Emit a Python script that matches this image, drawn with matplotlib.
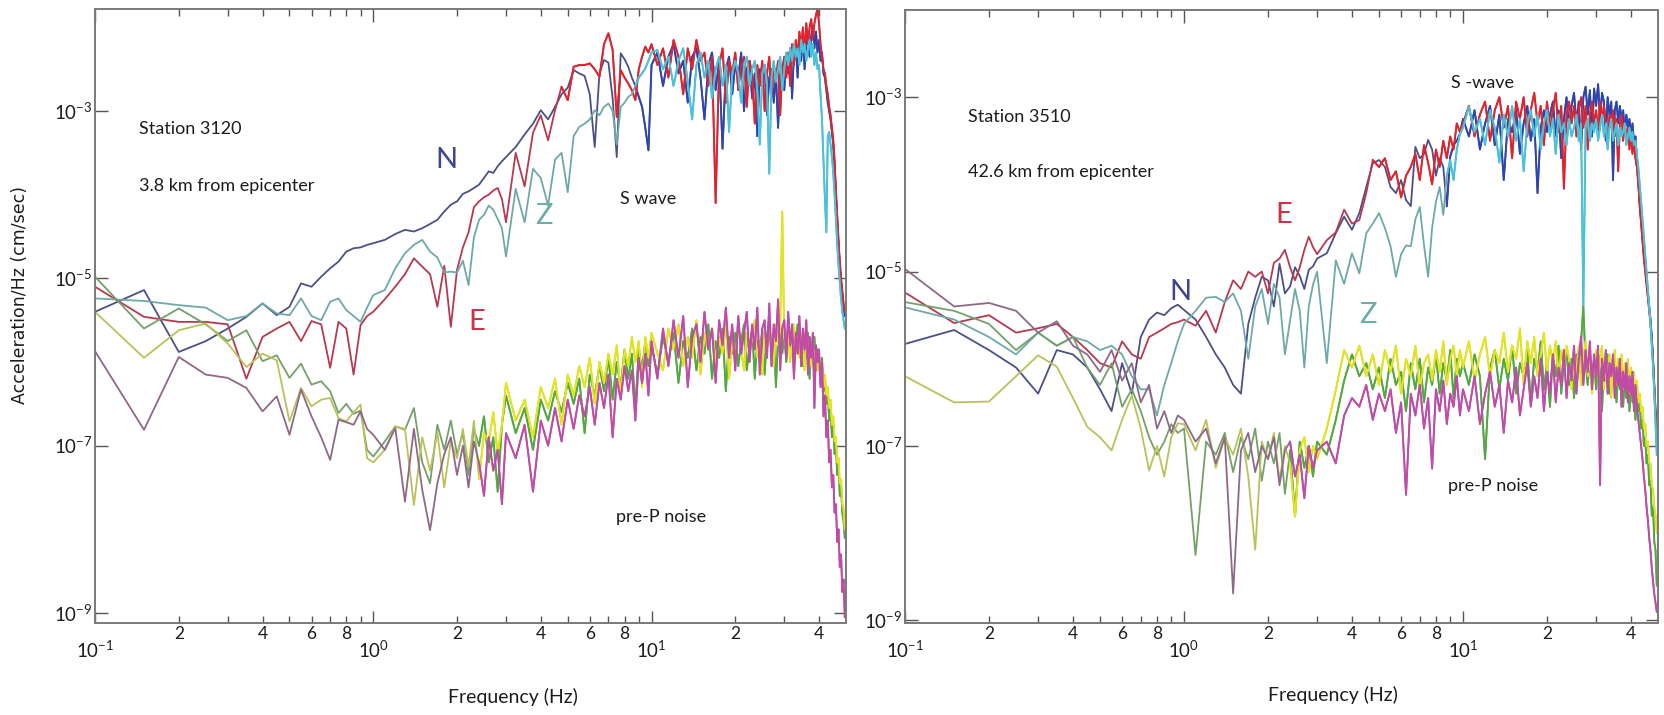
import numpy as np
import matplotlib
matplotlib.use('Agg')
import matplotlib.pyplot as plt
from matplotlib.ticker import FixedLocator, FixedFormatter, FuncFormatter, NullLocator

# ==================== DATA ====================
# frequency grid (Hz), shared by every spectrum
freq = np.array([
    0.10, 0.15, 0.20, 0.25, 0.30, 0.35, 0.40, 0.45, 0.50, 0.55, 0.60, 0.65, 0.70, 0.75, 0.80, 0.85, 0.90, 0.95,
    1.0, 1.1, 1.2, 1.3, 1.4, 1.5, 1.6, 1.7, 1.8, 1.9, 2.0, 2.1, 2.2, 2.3, 2.4, 2.5, 2.6, 2.7, 2.8, 2.9,
    3.0, 3.25, 3.5, 3.75, 4.0, 4.25, 4.5, 4.75, 5.0, 5.25, 5.5, 5.75, 6.0, 6.25, 6.5, 6.75, 7.0, 7.25,
    7.5, 7.75, 8.0, 8.25, 8.5, 8.75, 9.0, 9.25, 9.5, 9.75,
    10.0, 10.5, 11.0, 11.5, 12.0, 12.5, 13.0, 13.5, 14.0, 14.5, 15.0, 15.5, 16.0, 16.5, 17.0, 17.5, 18.0, 18.5, 19.0, 19.5,
    20.0, 20.5, 21.0, 21.5, 22.0, 22.5, 23.0, 23.5, 24.0, 24.5, 25.0, 25.5, 26.0, 26.5, 27.0, 27.5, 28.0, 28.5, 29.0, 29.5,
    30.0, 30.5, 31.0, 31.5, 32.0, 32.5, 33.0, 33.5, 34.0, 34.5, 35.0, 35.5, 36.0, 36.5, 37.0, 37.5, 38.0, 38.5, 39.0, 39.5,
    40.0, 40.5, 41.0, 41.5, 42.0, 42.5, 43.0, 43.5, 44.0, 44.5, 45.0, 45.5, 46.0, 46.5, 47.0, 47.5, 48.0, 48.5, 49.0, 49.5,
])

# all amplitudes below are log10 of acceleration spectra

# ---- station 3120, S wave ----
s3120_n = [
    -5.40, -5.14, -5.88, -5.75, -5.60, -5.46, -5.30, -5.44, -5.34, -5.06, -5.10, -4.98, -4.88, -4.80, -4.68, -4.64, -4.63, -4.60,
    -4.58, -4.54, -4.47, -4.42, -4.44, -4.40, -4.35, -4.30, -4.20, -4.12, -4.08, -3.99, -3.96, -3.92, -3.88, -3.80, -3.72, -3.74, -3.66, -3.60,
    -3.55, -3.43, -3.28, -3.15, -2.99, -3.10, -2.95, -2.80, -2.72, -2.51, -2.55, -2.58, -2.80, -3.43, -2.55, -2.39, -2.42, -2.85,
    -3.55, -2.31, -2.38, -2.47, -2.60, -2.70, -2.83, -2.95, -3.20, -3.47,
    -2.45, -2.30, -2.70, -2.35, -2.20, -2.55, -2.40, -2.90, -2.35, -2.25, -2.60, -3.10, -2.45, -2.30, -2.75, -2.40, -3.45, -2.50, -2.35, -2.80,
    -2.45, -2.60, -2.30, -3.00, -2.50, -2.40, -2.85, -2.55, -3.30, -2.50, -2.65, -2.45, -3.05, -2.60, -2.50, -2.90, -2.55, -3.20, -2.60, -2.45,
    -2.75, -2.35, -2.55, -2.25, -2.85, -2.30, -2.20, -2.60, -2.15, -2.40, -2.10, -2.50, -2.20, -2.05, -2.35, -2.10, -1.98, -2.25, -2.05, -2.30,
    -2.15, -2.40, -2.30, -2.55, -2.60, -2.75, -2.90, -3.00, -3.10, -3.25, -3.40, -3.70, -4.00, -4.35, -4.60, -4.85, -5.05, -5.20, -5.35, -5.45,
]
s3120_e = [
    -5.10, -5.46, -5.52, -5.52, -5.55, -6.20, -5.70, -5.60, -5.52, -5.75, -5.51, -5.55, -6.07, -5.52, -5.60, -6.15, -5.56, -5.45,
    -5.40, -5.25, -5.10, -4.95, -4.76, -4.86, -4.95, -5.34, -4.85, -5.58, -4.90, -4.63, -4.45, -4.15, -4.08, -4.03, -4.00, -3.95, -3.92, -4.05,
    -4.33, -3.50, -3.90, -3.26, -3.05, -3.35, -2.99, -2.71, -2.87, -2.47, -2.45, -2.45, -2.43, -2.50, -2.59, -2.20, -2.07, -2.27,
    -3.07, -2.51, -2.60, -2.67, -2.75, -2.87, -2.50, -2.35, -2.23, -2.30,
    -2.20, -2.45, -2.25, -2.60, -2.15, -2.35, -2.80, -2.25, -2.50, -2.15, -2.40, -2.30, -2.70, -2.35, -4.10, -2.45, -2.25, -2.90, -2.40, -2.55,
    -2.30, -2.75, -2.45, -2.35, -2.95, -2.40, -2.55, -3.15, -2.45, -2.70, -2.40, -3.00, -2.55, -2.35, -2.80, -2.45, -2.60, -2.40, -3.05, -2.50,
    -2.35, -2.60, -2.30, -2.70, -2.20, -2.45, -2.15, -2.35, -2.05, -2.25, -2.00, -2.30, -1.95, -2.20, -2.00, -1.90, -2.15, -1.95, -1.85, -1.78,
    -1.95, -2.20, -2.35, -2.50, -2.55, -2.70, -2.80, -2.95, -3.05, -3.20, -3.35, -3.60, -3.95, -4.25, -4.55, -4.80, -5.00, -5.15, -5.30, -5.40,
]
s3120_z = [
    -5.24, -5.27, -5.32, -5.35, -5.50, -5.45, -5.30, -5.42, -5.44, -5.24, -5.45, -5.50, -5.28, -5.24, -5.38, -5.45, -5.52, -5.35,
    -5.20, -5.14, -4.88, -4.70, -4.60, -4.54, -4.68, -4.75, -4.93, -4.92, -4.93, -4.79, -5.08, -4.51, -4.30, -4.24, -4.13, -4.18, -4.29, -4.40,
    -4.74, -3.93, -4.33, -3.69, -3.80, -4.13, -3.58, -3.50, -3.97, -3.30, -3.19, -3.15, -3.10, -2.99, -3.05, -2.95, -2.91, -3.00,
    -3.40, -2.95, -2.90, -2.83, -2.80, -2.70, -2.60, -2.55, -2.49, -2.40,
    -2.30, -2.27, -2.50, -2.35, -2.70, -2.40, -2.25, -2.65, -3.10, -2.45, -2.30, -2.60, -2.40, -2.85, -2.50, -2.35, -2.70, -2.45, -3.25, -2.55,
    -2.40, -2.55, -2.90, -2.45, -2.35, -2.70, -2.50, -2.40, -2.75, -3.40, -2.55, -2.45, -2.70, -3.75, -2.60, -2.40, -2.65, -2.50, -2.35, -2.75,
    -2.50, -2.30, -2.45, -2.25, -2.40, -2.20, -2.35, -2.25, -2.45, -2.15, -2.30, -2.20, -2.40, -2.25, -2.15, -2.35, -2.20, -2.45, -2.30, -2.50,
    -2.45, -2.80, -3.10, -3.60, -4.05, -4.45, -3.30, -3.25, -3.40, -3.55, -3.75, -4.00, -4.30, -4.60, -4.85, -5.05, -5.25, -5.40, -5.50, -5.60,
]

# ---- station 3120, pre-P noise ----
s3120_noise_g = [
    -4.98, -5.60, -5.36, -5.55, -5.75, -5.62, -5.99, -5.92, -6.19, -6.02, -6.27, -6.23, -6.35, -6.61, -6.50, -6.62, -6.58, -7.05,
    -7.13, -6.95, -6.77, -6.81, -6.55, -7.20, -7.45, -6.75, -7.05, -6.70, -7.10, -6.85, -7.35, -6.80, -7.00, -6.65, -7.20, -6.90, -7.55, -6.75,
    -6.40, -6.85, -6.55, -7.05, -6.45, -6.70, -6.35, -6.60, -6.25, -6.50, -6.20, -6.85, -6.15, -6.40, -6.05, -6.35, -5.95, -6.45,
    -6.00, -6.30, -5.85, -6.20, -5.90, -6.55, -5.85, -6.10, -5.75, -6.05,
    -5.80, -6.15, -5.70, -6.00, -5.65, -6.25, -5.75, -5.95, -5.60, -6.10, -5.70, -5.90, -5.55, -6.20, -5.75, -5.95, -5.60, -6.35, -5.70, -5.90,
    -5.65, -6.05, -5.75, -5.55, -6.10, -5.80, -5.60, -6.20, -5.75, -5.95, -5.60, -6.15, -5.70, -5.50, -5.95, -5.65, -6.30, -5.70, -5.55, -5.90,
    -5.65, -6.00, -5.70, -5.85, -5.60, -6.10, -5.75, -5.55, -5.90, -5.70, -6.05, -5.75, -5.95, -5.65, -6.20, -5.80, -5.95, -5.70, -6.10, -5.85,
    -6.00, -6.25, -5.95, -6.35, -6.20, -6.50, -6.35, -6.70, -6.55, -6.90, -6.75, -7.10, -7.00, -7.35, -7.25, -7.60, -7.50, -7.80, -7.90, -8.10,
]
s3120_noise_y = [
    -5.40, -5.95, -5.62, -5.54, -5.78, -6.06, -5.90, -5.98, -6.71, -6.31, -6.53, -6.45, -6.43, -6.67, -6.71, -6.60, -6.51, -7.15,
    -7.20, -7.05, -6.77, -6.80, -7.71, -6.90, -7.30, -6.85, -7.50, -6.95, -7.15, -6.80, -7.25, -6.70, -7.40, -6.85, -6.95, -6.60, -7.10, -6.75,
    -6.25, -6.70, -6.45, -6.90, -6.30, -6.55, -6.20, -6.75, -6.15, -6.40, -6.05, -6.30, -5.95, -6.50, -6.00, -6.25, -5.90, -6.15,
    -5.80, -6.40, -5.85, -6.05, -5.70, -6.00, -5.75, -6.30, -5.70, -5.95,
    -5.65, -5.90, -6.10, -5.60, -5.85, -5.55, -6.05, -5.70, -5.95, -5.50, -6.15, -5.65, -5.85, -5.60, -6.00, -5.70, -5.90, -5.55, -6.20, -5.75,
    -5.95, -5.60, -5.85, -6.10, -5.65, -5.90, -5.70, -5.50, -5.95, -5.75, -6.15, -5.65, -5.85, -5.60, -5.75, -6.05, -5.55, -5.80, -5.60, -4.20,
    -5.70, -5.85, -5.60, -6.00, -5.75, -5.55, -5.90, -5.70, -5.95, -5.65, -5.85, -6.10, -5.70, -5.90, -5.75, -6.05, -5.80, -6.00, -5.85, -6.10,
    -5.90, -6.15, -6.05, -6.30, -6.15, -6.40, -6.30, -6.55, -6.45, -6.75, -6.65, -6.95, -6.90, -7.20, -7.15, -7.45, -7.40, -7.70, -7.75, -8.00,
]
s3120_noise_m = [
    -5.87, -6.81, -5.94, -6.15, -6.19, -6.31, -6.59, -6.41, -6.87, -6.33, -6.65, -6.90, -7.17, -6.69, -6.72, -6.75, -6.59, -6.80,
    -6.87, -7.05, -6.79, -7.67, -6.80, -7.53, -8.01, -7.45, -7.10, -6.90, -7.35, -7.00, -7.50, -6.95, -7.20, -7.60, -6.90, -7.30, -7.05, -7.70,
    -6.85, -7.15, -6.75, -7.55, -6.70, -7.00, -6.55, -6.95, -6.45, -6.80, -6.40, -6.65, -6.30, -6.75, -6.25, -6.55, -6.15, -6.90,
    -6.20, -6.45, -6.05, -6.35, -6.10, -6.70, -5.95, -6.25, -5.90, -6.40,
    -5.75, -6.20, -5.60, -6.05, -5.50, -5.95, -5.45, -6.30, -5.70, -5.55, -6.00, -5.40, -5.85, -5.60, -6.25, -5.50, -5.80, -5.35, -5.95, -5.55,
    -6.10, -5.45, -5.90, -5.65, -5.40, -6.00, -5.55, -5.85, -5.35, -6.15, -5.60, -5.50, -5.95, -5.30, -6.05, -5.55, -5.75, -5.25, -6.10, -5.60,
    -5.50, -5.95, -5.40, -5.80, -5.55, -6.20, -5.65, -5.90, -5.45, -6.05, -5.60, -5.85, -5.50, -6.15, -5.70, -5.95, -5.65, -6.55, -5.80, -6.00,
    -5.85, -6.30, -6.00, -6.65, -6.40, -6.90, -6.70, -7.20, -7.05, -7.50, -7.35, -7.80, -7.70, -8.15, -8.00, -8.45, -8.30, -8.75, -8.60, -9.05,
]

# ---- station 3510, S wave ----
s3510_n = [
    -5.83, -5.67, -5.90, -6.10, -6.40, -5.90, -5.95, -6.10, -6.35, -6.60, -6.05, -6.40, -5.75, -5.55, -5.47, -5.50, -5.42, -5.38,
    -5.44, -5.55, -5.75, -5.95, -6.10, -6.30, -6.40, -5.60, -5.30, -5.06, -5.10, -5.40, -4.91, -5.25, -5.17, -4.95, -5.05, -5.20, -4.98, -4.94,
    -4.85, -4.79, -4.56, -4.37, -4.52, -4.33, -4.03, -3.76, -3.72, -3.80, -4.03, -4.10, -3.95, -4.18, -4.25, -3.57, -3.70, -3.65,
    -3.49, -3.60, -3.90, -3.70, -3.80, -4.25, -3.68, -3.55, -3.50, -3.42,
    -3.25, -3.45, -3.15, -3.60, -3.30, -3.10, -3.55, -3.20, -3.95, -3.25, -3.40, -3.15, -3.65, -3.30, -3.10, -3.50, -3.25, -4.10, -3.35, -3.15,
    -3.40, -3.20, -3.05, -3.45, -3.15, -3.70, -3.25, -3.00, -3.35, -3.10, -2.95, -3.30, -3.05, -3.60, -3.00, -2.88, -3.20, -2.92, -3.45, -2.90,
    -3.10, -2.85, -3.25, -2.95, -3.05, -3.50, -3.00, -3.20, -3.05, -3.95, -3.15, -3.05, -3.30, -3.10, -3.25, -3.15, -3.40, -3.20, -3.35, -3.25,
    -3.45, -3.30, -3.50, -3.45, -3.70, -3.95, -4.20, -4.40, -4.60, -4.80, -4.95, -5.10, -5.25, -5.40, -5.55, -5.75, -6.00, -6.30, -6.60, -6.90,
]
s3510_e = [
    -5.24, -5.59, -5.50, -5.70, -5.65, -5.60, -5.75, -5.90, -6.05, -6.10, -5.80, -5.95, -6.00, -5.75, -5.70, -5.65, -5.60, -5.58,
    -5.55, -5.62, -5.45, -5.70, -5.35, -5.10, -5.20, -5.00, -5.06, -5.00, -5.25, -4.90, -4.85, -4.75, -4.95, -5.10, -4.95, -4.75, -4.60, -4.72,
    -4.80, -4.64, -4.55, -4.29, -4.45, -4.41, -4.10, -3.72, -3.80, -3.70, -3.95, -3.85, -4.15, -3.90, -3.80, -3.65, -3.95, -3.55,
    -3.75, -4.00, -3.60, -3.80, -3.50, -3.70, -3.45, -3.60, -3.30, -3.40,
    -3.30, -3.10, -3.45, -3.20, -3.05, -3.50, -3.15, -3.00, -3.35, -3.10, -3.70, -3.05, -3.25, -3.00, -3.45, -3.15, -2.95, -3.30, -3.10, -3.55,
    -3.05, -3.35, -3.15, -2.95, -3.40, -3.10, -4.05, -3.20, -3.05, -3.30, -3.10, -3.45, -3.15, -3.00, -3.35, -3.10, -3.60, -3.20, -3.05, -3.30,
    -3.15, -3.40, -3.05, -3.25, -3.10, -3.30, -3.55, -3.20, -3.35, -3.15, -3.45, -3.25, -3.85, -3.30, -3.20, -3.50, -3.30, -3.45, -3.35, -3.60,
    -3.40, -3.65, -3.50, -3.70, -3.80, -4.00, -4.25, -4.45, -4.65, -4.85, -5.00, -5.15, -5.30, -5.45, -5.60, -5.80, -6.05, -6.35, -6.65, -6.95,
]
s3510_z = [
    -5.41, -5.55, -5.75, -5.95, -5.70, -5.85, -5.75, -5.80, -5.90, -5.85, -5.95, -6.20, -6.35, -6.35, -6.65, -6.30, -6.05, -5.80,
    -5.60, -5.45, -5.30, -5.29, -5.35, -5.25, -5.45, -6.00, -5.40, -5.20, -5.60, -5.14, -5.30, -5.95, -5.56, -5.20, -5.45, -6.10, -5.40, -5.15,
    -5.00, -6.05, -4.87, -5.14, -4.79, -5.02, -4.56, -4.45, -4.33, -4.50, -4.71, -5.06, -4.80, -4.70, -4.71, -4.40, -4.26, -4.70,
    -5.06, -4.50, -4.20, -4.03, -4.35, -3.90, -3.72, -3.95, -3.60, -3.42,
    -3.35, -3.11, -3.40, -3.25, -3.55, -3.15, -3.35, -3.75, -3.20, -3.45, -3.10, -3.50, -3.25, -3.85, -3.30, -3.15, -3.45, -3.20, -3.60, -3.30,
    -3.15, -3.45, -3.25, -3.65, -3.20, -3.40, -3.30, -3.55, -3.25, -3.45, -3.35, -3.20, -3.50, -3.30, -5.40, -3.35, -3.25, -3.50, -3.30, -3.40,
    -3.25, -3.50, -3.35, -3.20, -3.45, -3.30, -3.60, -3.35, -3.25, -3.50, -3.40, -3.30, -3.55, -3.35, -3.45, -3.40, -3.30, -3.55, -3.45, -3.35,
    -3.50, -3.40, -3.55, -3.50, -3.65, -3.80, -4.00, -4.20, -4.40, -4.60, -4.80, -5.00, -5.20, -5.40, -5.60, -5.85, -6.10, -6.40, -6.75, -7.10,
]

# ---- station 3510, pre-P noise ----
s3510_noise_g = [
    -5.35, -5.45, -5.60, -5.90, -5.70, -5.85, -5.75, -6.10, -6.30, -6.05, -6.55, -6.35, -6.60, -6.90, -7.10, -6.95, -6.75, -6.85,
    -6.80, -8.25, -6.95, -7.10, -6.85, -7.30, -6.90, -7.15, -6.80, -7.40, -6.95, -7.20, -6.85, -7.55, -7.05, -7.80, -6.95, -7.25, -7.00, -7.35,
    -6.95, -7.10, -6.70, -6.25, -5.95, -6.20, -6.05, -6.35, -6.10, -6.45, -6.00, -6.30, -6.15, -6.60, -6.05, -6.35, -6.00, -6.50,
    -6.10, -6.30, -5.95, -6.40, -6.05, -6.25, -5.90, -6.45, -6.00, -6.20,
    -6.05, -6.30, -5.95, -6.20, -7.15, -6.10, -5.90, -6.35, -6.00, -6.25, -5.85, -6.40, -6.05, -6.20, -5.90, -6.50, -6.00, -6.15, -5.80, -6.35,
    -6.05, -6.55, -5.95, -6.20, -5.85, -6.40, -6.05, -5.90, -6.30, -6.00, -6.45, -5.95, -6.15, -5.80, -5.40, -6.05, -6.30, -5.95, -6.20, -6.00,
    -6.35, -5.95, -6.15, -6.60, -6.05, -6.25, -5.95, -6.40, -6.10, -6.30, -6.00, -6.50, -6.15, -6.35, -6.05, -6.55, -6.20, -6.45, -6.10, -6.60,
    -6.25, -6.50, -6.30, -6.70, -6.45, -6.60, -6.50, -6.80, -6.70, -7.00, -6.90, -7.20, -7.10, -7.45, -7.40, -7.80, -7.70, -8.10, -8.20, -8.60,
]
s3510_noise_y = [
    -6.20, -6.50, -6.49, -6.20, -5.96, -6.09, -6.45, -6.78, -6.90, -7.05, -6.70, -6.42, -6.80, -7.28, -7.00, -7.35, -6.90, -6.74,
    -6.75, -7.05, -6.70, -7.25, -6.90, -7.10, -6.80, -7.35, -8.19, -6.95, -7.15, -6.85, -7.40, -7.00, -7.20, -7.81, -7.05, -6.90, -7.30, -7.00,
    -7.15, -6.80, -6.36, -5.90, -6.10, -5.85, -6.20, -5.95, -6.30, -5.90, -6.15, -5.85, -6.40, -6.00, -6.20, -5.85, -6.35, -6.05,
    -5.95, -6.25, -5.90, -6.15, -5.80, -6.30, -6.00, -5.85, -6.20, -5.90,
    -6.10, -5.80, -6.25, -5.95, -5.75, -6.20, -5.90, -6.05, -5.70, -6.15, -5.85, -6.00, -5.65, -6.30, -5.80, -6.05, -5.75, -6.20, -5.95, -5.70,
    -6.15, -5.85, -6.05, -5.80, -6.25, -5.90, -6.10, -5.85, -6.00, -6.35, -5.95, -6.15, -5.85, -6.30, -6.00, -5.80, -6.20, -5.95, -6.40, -6.05,
    -5.90, -6.25, -6.00, -5.85, -6.35, -6.05, -6.20, -5.95, -6.45, -6.10, -5.90, -6.30, -6.00, -6.20, -5.95, -6.35, -6.05, -6.25, -6.00, -6.40,
    -6.10, -6.30, -6.15, -6.45, -6.25, -6.50, -6.40, -6.60, -6.55, -6.80, -6.75, -7.00, -6.95, -7.20, -7.20, -7.45, -7.50, -7.70, -7.80, -8.00,
]
s3510_noise_m = [
    -4.97, -5.40, -5.36, -5.45, -5.70, -5.57, -5.85, -5.95, -6.15, -5.90, -6.25, -6.05, -6.50, -6.30, -6.80, -6.60, -6.85, -6.65,
    -6.70, -6.95, -6.80, -7.20, -6.90, -8.69, -7.05, -6.85, -7.30, -7.00, -7.15, -6.90, -7.45, -7.05, -6.95, -7.35, -7.10, -7.60, -7.00, -7.25,
    -7.05, -6.95, -7.20, -6.65, -6.45, -6.55, -6.30, -6.70, -6.40, -6.60, -6.35, -6.85, -6.50, -7.56, -6.40, -6.65, -6.30, -6.80,
    -6.45, -7.26, -6.35, -6.60, -6.25, -6.75, -6.40, -6.55, -6.20, -6.65,
    -6.35, -6.60, -6.20, -6.75, -6.40, -6.15, -6.55, -6.30, -6.85, -6.25, -6.50, -6.10, -6.65, -6.35, -6.05, -6.55, -6.20, -6.45, -6.00, -6.60,
    -6.15, -6.40, -5.95, -6.50, -6.10, -6.30, -5.90, -6.45, -6.05, -6.25, -5.85, -6.40, -6.00, -5.75, -6.30, -5.90, -6.15, -5.80, -6.35, -5.95,
    -6.20, -5.85, -7.45, -6.00, -6.25, -5.90, -6.40, -6.05, -6.20, -5.95, -6.45, -6.10, -6.30, -6.00, -6.55, -6.15, -6.35, -6.05, -6.50, -6.20,
    -6.40, -6.15, -6.60, -6.30, -6.55, -6.70, -6.85, -7.00, -7.15, -7.35, -7.50, -7.70, -7.85, -8.05, -8.20, -8.40, -8.55, -8.70, -8.80, -8.90,
]

# component colours: (thin/low-frequency tone, dense/high-frequency tone, switch frequency)
N_STYLE = ('#4b5088', '#2b45b5', 9.0)
E_STYLE = ('#b5394f', '#e3222c', 5.0)
Z_STYLE = ('#6ea9a8', '#45c4e0', 9.0)
NOISE_G = ('#74a06a', '#50aa3e', 2.5)
NOISE_Y = ('#b9c25a', '#e6e612', 2.5)
NOISE_M = ('#8f6889', '#c548ab', 2.5)

NARROW = ['Lato', 'DejaVu Sans']
TEXT_COLOR = '#1c1c1c'
LINE_W = 1.3

plt.rcParams['mathtext.fontset'] = 'custom'
plt.rcParams['mathtext.rm'] = 'Lato'
plt.rcParams['mathtext.it'] = 'Lato:italic'
plt.rcParams['mathtext.bf'] = 'Lato:bold'

W, H = 1665, 715


def minor_label(x, pos):
    """Label only the 2, 4, 6, 8 minor ticks"""
    m = int(round(x / 10 ** np.floor(np.log10(x) + 1e-9)))
    return str(m) if m in (2, 4, 6, 8) else ''


def style_axes(ax, ylim):
    ax.set_xscale('log')
    ax.set_yscale('log')
    ax.set_xlim(0.1, 50)
    ax.set_ylim(*ylim)

    ax.xaxis.set_major_locator(FixedLocator([0.1, 1, 10]))
    ax.xaxis.set_major_formatter(FixedFormatter(['$10^{-1}$', '$10^{0}$', '$10^{1}$']))
    minor = [m * d for d in (0.1, 1, 10) for m in range(2, 10) if m * d < 50]
    ax.xaxis.set_minor_locator(FixedLocator(minor))
    ax.xaxis.set_minor_formatter(FuncFormatter(minor_label))

    ax.yaxis.set_major_locator(FixedLocator([1e-9, 1e-7, 1e-5, 1e-3]))
    ax.yaxis.set_major_formatter(FixedFormatter(['$10^{-9}$', '$10^{-7}$', '$10^{-5}$', '$10^{-3}$']))
    ax.yaxis.set_minor_locator(NullLocator())

    ax.tick_params(which='both', direction='in', top=True, right=True,
                   color='#555555', labelcolor=TEXT_COLOR)
    ax.tick_params(axis='x', which='major', length=9, width=1.0, pad=13, labelsize=13.5)
    ax.tick_params(axis='x', which='minor', length=5, width=1.0, pad=2, labelsize=12.5,
                   labelfontfamily='Lato')
    ax.tick_params(axis='y', which='major', length=9, width=1.0, pad=2, labelsize=13.5)

    for sp in ax.spines.values():
        sp.set_color('#7a7a7a')
        sp.set_linewidth(1.4)
    ax.set_facecolor('white')


def plot_spectrum(ax, values, style):
    """Draw one spectrum: thin tone everywhere, dense tone above the switch frequency"""
    low, high, f_switch = style
    amp = 10.0 ** np.array(values)
    ax.plot(freq, amp, color=low, lw=LINE_W)
    i0 = max(int(np.searchsorted(freq, f_switch)) - 1, 0)
    ax.plot(freq[i0:], amp[i0:], color=high, lw=LINE_W)


def fig_text(fig, x, y, s, **kw):
    """Place text using pixel positions measured on the figure"""
    kw.setdefault('color', TEXT_COLOR)
    kw.setdefault('family', NARROW)
    fig.text(x / W, 1 - y / H, s, **kw)


# ==================== FIGURE ====================

fig = plt.figure(figsize=(W / 100, H / 100), dpi=100)
fig.patch.set_facecolor('white')

ax1 = fig.add_axes([95 / W, 1 - 623 / H, (846 - 95) / W, (623 - 9) / H])
ax2 = fig.add_axes([905 / W, 1 - 623 / H, (1658 - 905) / W, (623 - 10) / H])

style_axes(ax1, (10 ** -9.12, 10 ** -1.78))
style_axes(ax2, (10 ** -9.03, 10 ** -2.0))

for ax, series in (
    (ax1, [(s3120_n, N_STYLE), (s3120_e, E_STYLE), (s3120_z, Z_STYLE),
           (s3120_noise_g, NOISE_G), (s3120_noise_y, NOISE_Y), (s3120_noise_m, NOISE_M)]),
    (ax2, [(s3510_n, N_STYLE), (s3510_e, E_STYLE), (s3510_z, Z_STYLE),
           (s3510_noise_g, NOISE_G), (s3510_noise_y, NOISE_Y), (s3510_noise_m, NOISE_M)]),
):
    for values, style in series:
        plot_spectrum(ax, values, style)

# ---- annotations, left panel ----
fig_text(fig, 139, 129, 'Station 3120', fontsize=13, ha='left', va='center')
fig_text(fig, 139, 186, '3.8 km from epicenter', fontsize=13, ha='left', va='center')
fig_text(fig, 648, 199, 'S wave', fontsize=13, ha='center', va='center')
fig_text(fig, 661, 517, 'pre-P noise', fontsize=13, ha='center', va='center')
fig_text(fig, 446, 160, 'N', fontsize=21, ha='center', va='center', color='#3d4590')
fig_text(fig, 544, 216, 'Z', fontsize=21, ha='center', va='center', color='#6aaeaa')
fig_text(fig, 477, 322, 'E', fontsize=21, ha='center', va='center', color='#cc3344')

# ---- annotations, right panel ----
fig_text(fig, 968, 117, 'Station 3510', fontsize=13, ha='left', va='center')
fig_text(fig, 968, 172, '42.6 km from epicenter', fontsize=13, ha='left', va='center')
fig_text(fig, 1483, 83, 'S -wave', fontsize=13, ha='center', va='center')
fig_text(fig, 1493, 486, 'pre-P noise', fontsize=13, ha='center', va='center')
fig_text(fig, 1284, 215, 'E', fontsize=21, ha='center', va='center', color='#cc3344')
fig_text(fig, 1180, 292, 'N', fontsize=21, ha='center', va='center', color='#3d4590')
fig_text(fig, 1368, 315, 'Z', fontsize=21, ha='center', va='center', color='#6aaeaa')

# ---- axis titles ----
fig_text(fig, 20, 295, 'Acceleration/Hz (cm/sec)', fontsize=12.5, ha='center', va='center',
         rotation=90, family='DejaVu Sans')
fig_text(fig, 513, 697, 'Frequency (Hz)', fontsize=14, ha='center', va='center')
fig_text(fig, 1333, 695, 'Frequency (Hz)', fontsize=14, ha='center', va='center')

fig.savefig('out.png', dpi=100, facecolor='white')
